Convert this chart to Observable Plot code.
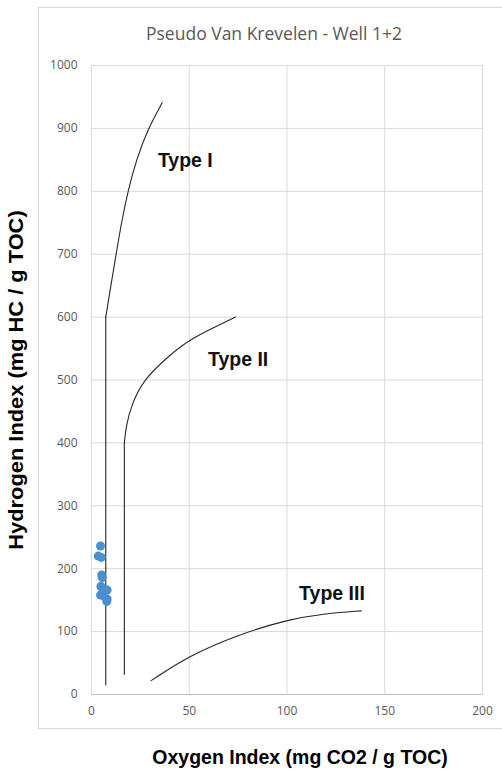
<!DOCTYPE html>
<html>
<head>
<meta charset="utf-8">
<script src="https://cdn.jsdelivr.net/npm/d3@7"></script>
<script src="https://cdn.jsdelivr.net/npm/@observablehq/plot@0.6"></script>
<style>
  html, body { margin: 0; padding: 0; background: #ffffff; }
  #wrap { position: relative; width: 502px; height: 771px; overflow: hidden; }
  #box { position: absolute; left: 38px; top: 7px; width: 470px; height: 722px; border: 1px solid #d9d9d9; background: #fff; box-sizing: border-box; }
  #title { position: absolute; left: 274px; top: 21px; transform: translateX(-50%); white-space: nowrap;
           font-family: "Open Sans", sans-serif; font-size: 17.5px; color: #595959; }
  #ytitle { position: absolute; left: 16px; top: 380px; transform: translate(-50%, -50%) rotate(-90deg) scaleX(1.12); white-space: nowrap;
            font-family: "Liberation Sans", Arial, sans-serif; font-weight: bold; font-size: 19.5px; color: #000; }
  #xtitle { position: absolute; left: 300px; top: 757px; transform: translate(-50%, -50%); white-space: nowrap;
            font-family: "Liberation Sans", Arial, sans-serif; font-weight: bold; font-size: 19.5px; color: #000; }
  #chart { position: absolute; left: 0; top: 0; }
</style>
</head>
<body>
<div id="wrap">
  <div id="box"></div>
  <div id="title">Pseudo Van Krevelen - Well 1+2</div>
  <div id="chart"></div>
  <div id="ytitle">Hydrogen Index (mg HC / g TOC)</div>
  <div id="xtitle">Oxygen Index (mg CO2 / g TOC)</div>
</div>
<script>
// Tick values
const xTicks = [0, 50, 100, 150, 200];
const yTicks = [0, 100, 200, 300, 400, 500, 600, 700, 800, 900, 1000];

// Sample points (Oxygen Index, Hydrogen Index)
const sampleOI = [4.6, 3.5, 5.0, 5.2, 5.5, 4.8, 5.8, 8.0, 4.6, 6.5, 8.0, 7.8];
const sampleHI = [236, 220, 218, 190, 186, 172, 168, 166, 158, 156, 152, 148];

// Type I kerogen boundary: vertical stem then curve
const typeIStemOI = [7.3, 7.3];
const typeIStemHI = [15, 600];
const typeICurveOI = [7.3, 9.9, 12.6, 15.3, 18.6, 22.9, 29.0, 36.2];
const typeICurveHI = [600, 650, 700, 750, 800, 850, 900, 941];

// Type II kerogen boundary
const typeIIStemOI = [16.8, 16.8];
const typeIIStemHI = [32, 400];
const typeIICurveOI = [16.8, 17.7, 20.3, 26.3, 39.5, 50.0, 73.7];
const typeIICurveHI = [400, 427, 459, 500, 538, 565, 600];

// Type III kerogen boundary
const typeIIIOI = [30.5, 50, 75, 100, 120, 138];
const typeIIIHI = [22, 62, 95, 119, 129, 133];

// Labels
const labelText = ["Type I", "Type II", "Type III"];
const labelOI = [48, 75, 123];
const labelHI = [848, 532, 160];

const toPts = (xs, ys) => xs.map((x, i) => ({x, y: ys[i]}));
const samples = toPts(sampleOI, sampleHI);
const labels = labelText.map((t, i) => ({t, x: labelOI[i], y: labelHI[i]}));

const lineStyle = {x: "x", y: "y", stroke: "#262626", strokeWidth: 1.1};

const chart = Plot.plot({
  width: 502,
  height: 771,
  marginLeft: 91,
  marginRight: 20,
  marginTop: 65,
  marginBottom: 77,
  style: {background: "transparent", fontFamily: "Open Sans, sans-serif", fontSize: "12px", color: "#595959"},
  x: {domain: [0, 200], ticks: xTicks},
  y: {domain: [0, 1000], ticks: yTicks},
  marks: [
    Plot.gridX(xTicks, {stroke: "#d9d9d9", strokeOpacity: 1}),
    Plot.gridY(yTicks, {stroke: "#d9d9d9", strokeOpacity: 1}),
    Plot.frame({stroke: "#d9d9d9"}),
    Plot.ruleY([0], {stroke: "#bfbfbf"}),
    Plot.axisX(xTicks, {tickSize: 0, tickPadding: 12, label: null, fill: "#595959", fontSize: 12, tickFormat: d => String(d)}),
    Plot.axisY(yTicks, {tickSize: 0, tickPadding: 14, label: null, fill: "#595959", fontSize: 12, tickFormat: d => String(d)}),
    Plot.line(toPts(typeIStemOI, typeIStemHI), lineStyle),
    Plot.line(toPts(typeICurveOI, typeICurveHI), {...lineStyle, curve: "basis"}),
    Plot.line(toPts(typeIIStemOI, typeIIStemHI), lineStyle),
    Plot.line(toPts(typeIICurveOI, typeIICurveHI), {...lineStyle, curve: "basis"}),
    Plot.line(toPts(typeIIIOI, typeIIIHI), {...lineStyle, curve: "basis"}),
    Plot.dot(samples, {x: "x", y: "y", r: 4.5, fill: "#4a8fd2", stroke: "none"}),
    Plot.text(labels, {x: "x", y: "y", text: "t", fontFamily: "Liberation Sans, Arial, sans-serif", fontWeight: "bold", fontSize: 19.5, fill: "#111"})
  ]
});
document.getElementById("chart").appendChild(chart);
</script>
</body>
</html>
